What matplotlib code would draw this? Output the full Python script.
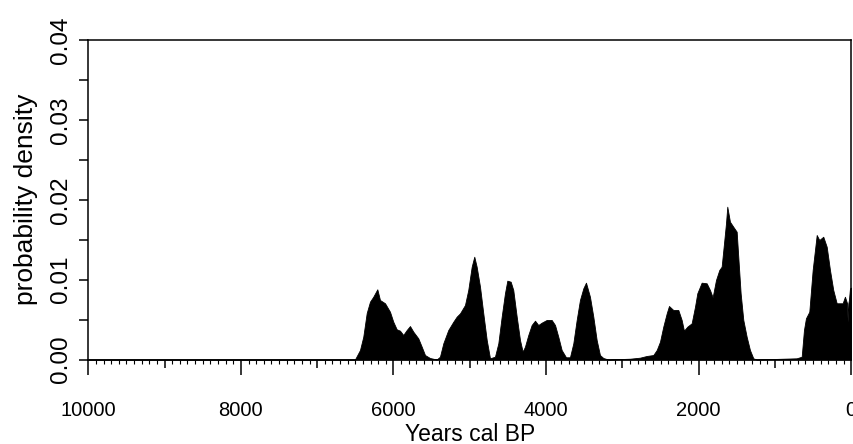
import matplotlib
matplotlib.use("Agg")
import matplotlib.pyplot as plt
from matplotlib.ticker import MultipleLocator, FuncFormatter

plt.rcParams['font.family'] = ['Liberation Sans', 'DejaVu Sans']

# summed probability (years cal BP, density)
years = [10000, 6550, 6505, 6439, 6396, 6351, 6308, 6265, 6212, 6177, 6111, 6046,
         6003, 5958, 5915, 5872, 5827, 5784, 5740, 5675, 5630, 5587, 5522, 5434,
         5391, 5347, 5282, 5216, 5172, 5128, 5063, 5020, 4975, 4941, 4910, 4866,
         4823, 4778, 4735, 4670, 4626, 4582, 4539, 4508, 4464, 4430, 4385, 4342,
         4307, 4277, 4233, 4189, 4145, 4102, 4058, 3992, 3927, 3883, 3840, 3796,
         3739, 3687, 3643, 3599, 3556, 3512, 3477, 3425, 3381, 3337, 3294, 3250,
         3185, 2900, 2769, 2682, 2595, 2550, 2507, 2464, 2419, 2389, 2333, 2267,
         2223, 2193, 2149, 2092, 2048, 2018, 1961, 1895, 1852, 1817, 1773, 1730,
         1699, 1668, 1642, 1625, 1590, 1547, 1502, 1481, 1450, 1415, 1371, 1328,
         1284, 1240, 716, 650, 620, 594, 550, 506, 453, 419, 367, 322,
         279, 236, 191, 148, 113, 83, 55, 48, 39, 30, 17, 0]
density = [0, 0, 0, 0.00119, 0.00285, 0.00582, 0.00724, 0.00786, 0.00879, 0.00745, 0.00704, 0.00598,
           0.00473, 0.00378, 0.00361, 0.00307, 0.00369, 0.00419, 0.00348, 0.00265, 0.0016, 0.00056, 0.00019, 0,
           0.00035, 0.00203, 0.00369, 0.00473, 0.00536, 0.00578, 0.00682, 0.0087, 0.01162, 0.01287, 0.01162, 0.00911,
           0.00578, 0.00244, 0.00015, 0.00035, 0.00203, 0.00536, 0.00829, 0.00987, 0.00974, 0.0087, 0.00536, 0.00244,
           0.00098, 0.0016, 0.00307, 0.00432, 0.00486, 0.00432, 0.00461, 0.00495, 0.00495, 0.00432, 0.00285, 0.00119,
           0.00028, 0.00028, 0.00203, 0.00495, 0.00745, 0.00891, 0.00962, 0.00786, 0.00536, 0.00244, 0.00056, 0.00019,
           0, 0.0001, 0.00023, 0.00044, 0.00056, 0.00119, 0.00223, 0.00411, 0.00578, 0.0067, 0.0062, 0.0062,
           0.00495, 0.00361, 0.00411, 0.00453, 0.00661, 0.00829, 0.00962, 0.00954, 0.0087, 0.00779, 0.00995, 0.0112,
           0.01162, 0.01455, 0.01705, 0.01913, 0.01725, 0.01663, 0.016, 0.01287, 0.00829, 0.00495, 0.00285, 0.00119,
           0.00015, 0, 0.00015, 0.00035, 0.00369, 0.00516, 0.00598, 0.0112, 0.01559, 0.01496, 0.01537, 0.01412,
           0.0112, 0.0087, 0.00704, 0.00704, 0.00704, 0.00786, 0.00704, 0.0047, 0.0070, 0.0075, 0.00891, 0.009]

fig = plt.figure(figsize=(8.54, 4.44), dpi=100)
ax = fig.add_axes([0.1034, 0.1903, 0.8934, 0.7196])

ax.fill_between(years, density, 0, color='black', lw=0.6)

ax.set_xlim(10000, 0)
ax.set_ylim(0, 0.04)

for s in ax.spines.values():
    s.set_linewidth(1.1)

ax.xaxis.set_major_locator(MultipleLocator(1000))
ax.xaxis.set_minor_locator(MultipleLocator(100))
ax.xaxis.set_major_formatter(FuncFormatter(lambda v, p: '%d' % v if round(v) % 2000 == 0 else ''))
ax.tick_params(axis='x', which='major', length=10.8, width=1.1, pad=19, labelsize=14.5)
ax.tick_params(axis='x', which='minor', length=2.8, width=0.8)

ax.yaxis.set_major_locator(MultipleLocator(0.01))
ax.yaxis.set_minor_locator(MultipleLocator(0.005))
ax.yaxis.set_major_formatter(FuncFormatter(lambda v, p: '%.2f' % v))
ax.tick_params(axis='y', which='both', length=6.5, width=1.1, pad=5, labelsize=17.5)
for lab in ax.get_yticklabels():
    lab.set_rotation(90)
    lab.set_va('center')

ax.set_xlabel('Years cal BP', fontsize=16.5)
ax.xaxis.set_label_coords(0.5, -0.2)
ax.set_ylabel('probability density', fontsize=19)
ax.yaxis.set_label_coords(-0.066, 0.5)

fig.canvas.draw()
for t in ax.xaxis.get_major_ticks():
    if round(t.get_loc()) % 2000 != 0:
        t.tick1line.set_markersize(5.8)

fig.savefig('out.png', dpi=100)
